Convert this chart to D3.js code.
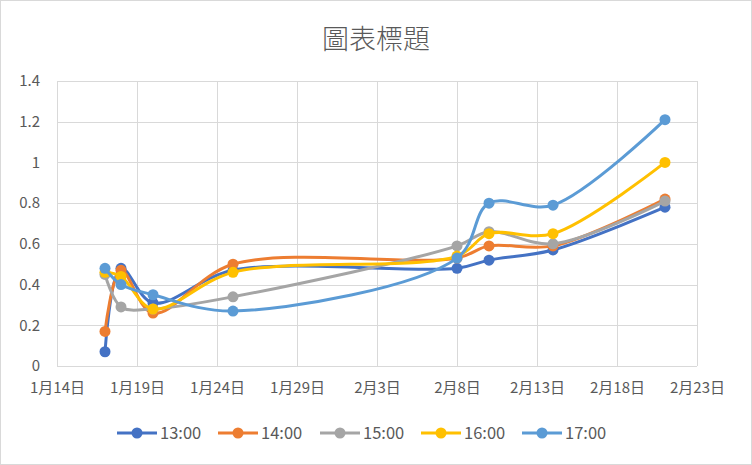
<!DOCTYPE html>
<html><head><meta charset="utf-8">
<script src="https://cdn.jsdelivr.net/npm/d3@7"></script>
<style>body{margin:0;background:#fff}svg{display:block}</style>
</head><body>
<script>
const dates = ["2020-01-17","2020-01-18","2020-01-20","2020-01-25","2020-02-08","2020-02-10","2020-02-14","2020-02-21"];
const seriesNames = ["13:00","14:00","15:00","16:00","17:00"];
const s1300 = [0.07, 0.48, 0.31, 0.47, 0.48, 0.52, 0.57, 0.78];
const s1400 = [0.17, 0.47, 0.26, 0.50, 0.53, 0.59, 0.59, 0.82];
const s1500 = [0.45, 0.29, 0.28, 0.34, 0.59, 0.66, 0.60, 0.81];
const s1600 = [0.46, 0.44, 0.28, 0.46, 0.54, 0.65, 0.65, 1.00];
const s1700 = [0.48, 0.40, 0.35, 0.27, 0.53, 0.80, 0.79, 1.21];
const colors = ["#4472C4","#ED7D31","#A5A5A5","#FFC000","#5B9BD5"];
const xTickDates = ["2020-01-14","2020-01-19","2020-01-24","2020-01-29","2020-02-03","2020-02-08","2020-02-13","2020-02-18","2020-02-23"];
const yTicks = [0,0.2,0.4,0.6,0.8,1,1.2,1.4];
const title = "圖表標題";

const W=752,H=465;
const font = "'Noto Sans CJK TC','Noto Sans',sans-serif";
const parse = d3.utcParse("%Y-%m-%d");
const allSeries = [s1300,s1400,s1500,s1600,s1700];

const svg = d3.select("body").append("svg").attr("width",W).attr("height",H);
svg.append("rect").attr("x",0.5).attr("y",0.5).attr("width",W-1).attr("height",H-1)
  .attr("fill","#fff").attr("stroke","#D9D9D9");

const x = d3.scaleUtc().domain([parse(xTickDates[0]), parse(xTickDates[xTickDates.length-1])]).range([57,697]);
const y = d3.scaleLinear().domain([0,1.4]).range([366,81]);

// title
svg.append("text").attr("x",376).attr("y",49).attr("text-anchor","middle")
  .attr("font-family",font).attr("font-size",27).attr("font-weight",300).attr("fill","#595959").text(title);

// grid
const g = svg.append("g");
g.selectAll(".hg").data(yTicks).join("line")
  .attr("x1",57).attr("x2",697).attr("y1",d=>Math.round(y(d))+0.5).attr("y2",d=>Math.round(y(d))+0.5)
  .attr("stroke","#D9D9D9").attr("stroke-width",1);
g.selectAll(".vg").data(xTickDates).join("line")
  .attr("x1",d=>Math.round(x(parse(d)))+0.5).attr("x2",d=>Math.round(x(parse(d)))+0.5)
  .attr("y1",81).attr("y2",366).attr("stroke","#D9D9D9").attr("stroke-width",1);

// axes labels
const yAxis = d3.axisLeft(y).tickValues(yTicks).tickSize(0).tickPadding(0).tickFormat(d=>d3.format("")(+d.toFixed(1)));
const ya = svg.append("g").attr("transform","translate(40,0)").call(yAxis);
ya.select(".domain").remove();
ya.selectAll("text").attr("font-family",font).attr("font-size",15).attr("fill","#595959");

const fmt = d => (d.getUTCMonth()+1)+"月"+d.getUTCDate()+"日";
const xAxis = d3.axisBottom(x).tickValues(xTickDates.map(parse)).tickSize(0).tickPadding(0).tickFormat(fmt);
const xa = svg.append("g").attr("transform","translate(0,382)").call(xAxis);
xa.select(".domain").remove();
xa.selectAll("text").attr("font-family",font).attr("font-size",15).attr("fill","#595959");

// lines
const line = d3.line().x(d=>x(d[0])).y(d=>y(d[1])).curve(d3.curveCatmullRom.alpha(0.5));
allSeries.forEach((s,i)=>{
  const pts = dates.map((d,j)=>[parse(d), s[j]]);
  const sg = svg.append("g");
  sg.append("path").datum(pts).attr("d",line).attr("fill","none")
    .attr("stroke",colors[i]).attr("stroke-width",3).attr("stroke-linecap","round").attr("stroke-linejoin","round");
  sg.selectAll("circle").data(pts).join("circle")
    .attr("cx",d=>x(d[0])).attr("cy",d=>y(d[1])).attr("r",5.5).attr("fill",colors[i]);
});

// legend
const legX = [117,218,320,421,522];
const lg = svg.append("g");
seriesNames.forEach((n,i)=>{
  const lx = legX[i], ly = 433;
  lg.append("line").attr("x1",lx).attr("x2",lx+40).attr("y1",ly).attr("y2",ly)
    .attr("stroke",colors[i]).attr("stroke-width",3);
  lg.append("circle").attr("cx",lx+20).attr("cy",ly).attr("r",5.5).attr("fill",colors[i]);
  lg.append("text").attr("x",lx+43).attr("y",ly).attr("dy","0.35em")
    .attr("font-family",font).attr("font-size",16.5).attr("fill","#595959").text(n);
});
</script>
</body></html>
